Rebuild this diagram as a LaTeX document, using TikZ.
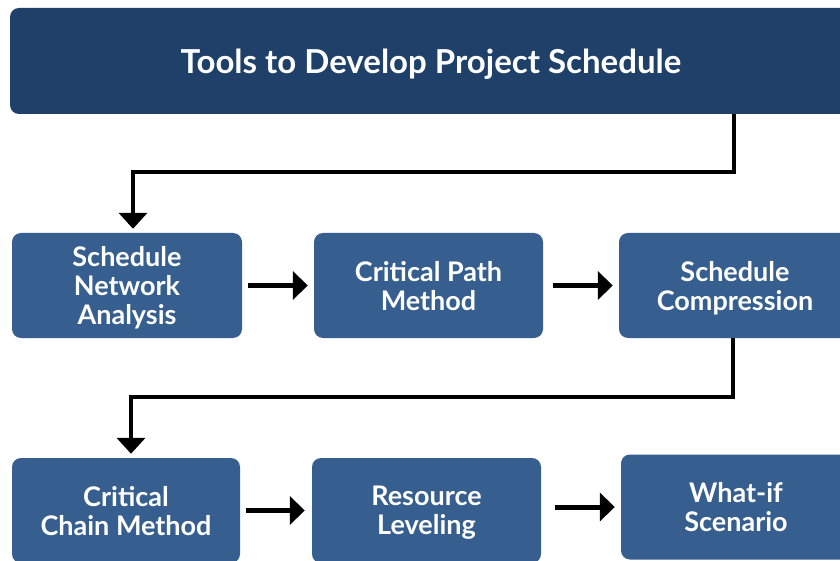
\documentclass[tikz,border=0pt]{standalone}
\usepackage{fontspec}
\setmainfont{Lato}
\usetikzlibrary{arrows.meta}
\definecolor{navy}{HTML}{1F4068}
\definecolor{steel}{HTML}{365F8F}
\tikzset{
	toolbox/.style={fill=steel, rounded corners=9pt, minimum height=105pt, text=white, align=center, font=\fontsize{27}{29}\selectfont\bfseries, inner sep=0pt, text depth=0pt},
	link/.style={line width=4.5pt, -{Triangle[length=16pt,width=28pt]}, shorten >=4pt},
	step arrow/.style={line width=5pt, -{Triangle[length=15pt,width=28pt]}}
}
\begin{document}
\begin{tikzpicture}[x=1pt,y=-1pt]
		\useasboundingbox (0,0) rectangle (840,561);
		\clip (0,0) rectangle (840,561);

		%header
		\node[fill=navy, rounded corners=9pt, minimum width=842pt, minimum height=106pt, text=white, text depth=0pt, font=\fontsize{33}{38}\selectfont\bfseries] (title) at (431, 61) {Tools to Develop Project Schedule};

		%first row
		\node[toolbox, minimum width=230pt] (sna) at (127, 285.5) {Schedule\\Network\\Analysis};
		\node[toolbox, minimum width=229pt] (cpm) at (428.5, 285.5) {Critical Path\\Method};
		\node[toolbox, minimum width=232pt] (sc) at (735, 285.5) {Schedule\\Compression};

		%second row
		\node[toolbox, minimum width=228pt] (ccm) at (126, 510.5) {Critical\\Chain Method};
		\node[toolbox, minimum width=229pt] (rl) at (426.5, 510.5) {Resource\\Leveling};
		\node[toolbox, minimum width=230pt] (wi) at (736, 507) {What-if\\Scenario};

		%bends
		\coordinate (b1) at (133, 172);
		\coordinate (b2) at (131, 397);

		%connectors
		\draw[link] (title.south -| 734,0) |- (b1) -- (sna.north -| b1);
		\draw[link] (sc.south -| 733,0) |- (b2) -- (ccm.north -| b2);

		%row arrows
		\draw[step arrow, shorten <=6pt, shorten >=6pt] (sna.east) -- (cpm.west);
		\draw[step arrow, shorten <=10pt, shorten >=6pt] (cpm.east) -- (sc.west);
		\draw[step arrow, shorten <=6pt, shorten >=7pt] (ccm.east) -- (rl.west);
		\draw[step arrow, shorten <=14pt, shorten >=6pt] (rl.east |- wi) -- (wi.west);
	\end{tikzpicture}
\end{document}
